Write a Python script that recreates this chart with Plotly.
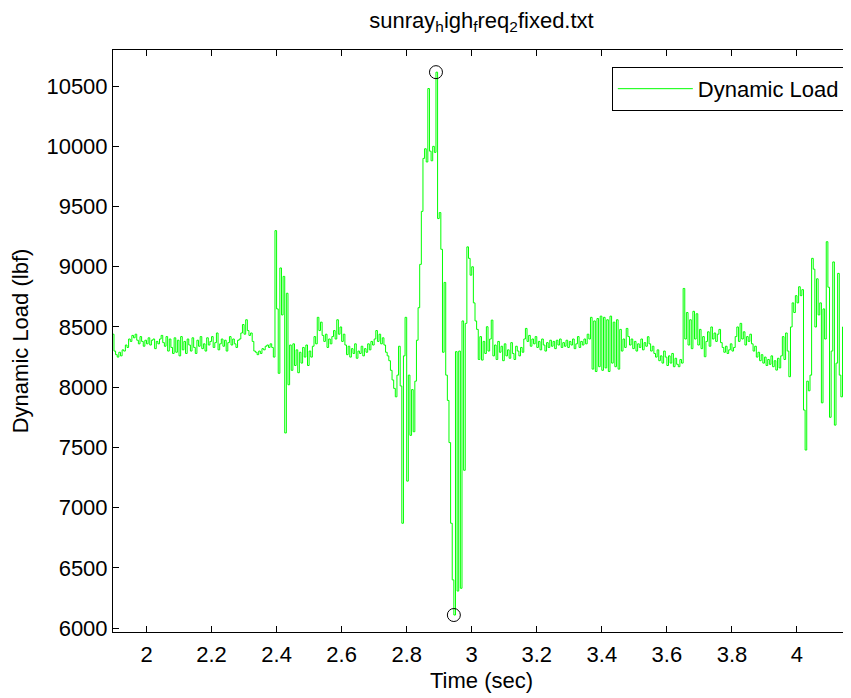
import numpy as np
import plotly.graph_objects as go

# ---- data ----
t_start = 1.895          # s, first sample
dt = 0.005               # s, sample interval

load_lbf = [
    # 1.895 - 1.94
    8440, 8300, 8270, 8250, 8290, 8260, 8310, 8300, 8350, 8330,
    # 1.945 - 1.99
    8400, 8380, 8430, 8410, 8440, 8390, 8360, 8420, 8380, 8340,
    # 1.995 - 2.04
    8390, 8360, 8410, 8350, 8390, 8400, 8320, 8380, 8360, 8400,
    # 2.045 - 2.09
    8430, 8370, 8340, 8420, 8300, 8400, 8330, 8280, 8410, 8290,
    # 2.095 - 2.14
    8390, 8260, 8420, 8310, 8380, 8280, 8400, 8350, 8300, 8410,
    # 2.145 - 2.19
    8330, 8280, 8390, 8340, 8420, 8320, 8360, 8300, 8410, 8350,
    # 2.195 - 2.24
    8380, 8420, 8330, 8370, 8450, 8310, 8360, 8400, 8340, 8390,
    # 2.245 - 2.29
    8300, 8370, 8420, 8350, 8400, 8360, 8330, 8390, 8400, 8450,
    # 2.295 - 2.34
    8520, 8440, 8560, 8470, 8430, 8450, 8380, 8300, 8290, 8270,
    # 2.345 - 2.39
    8300, 8280, 8320, 8310, 8340, 8350, 8330, 8360, 8330, 8250,
    # 2.395 - 2.44
    9300, 8650, 8115, 8990, 8600, 8920, 7620, 8780, 8020, 8350,
    # 2.445 - 2.49
    8140, 8360, 8180, 8310, 8120, 8290, 8200, 8330, 8250, 8350,
    # 2.495 - 2.54
    8180, 8300, 8250, 8340, 8420, 8360, 8580, 8470, 8540, 8430,
    # 2.545 - 2.59
    8380, 8440, 8330, 8400, 8360, 8420, 8470, 8400, 8560, 8440,
    # 2.595 - 2.64
    8500, 8380, 8440, 8350, 8270, 8340, 8250, 8320, 8280, 8360,
    # 2.645 - 2.69
    8240, 8300, 8280, 8340, 8260, 8320, 8290, 8360, 8310, 8380,
    # 2.695 - 2.74
    8350, 8400, 8470, 8380, 8440, 8360, 8410, 8350, 8290, 8260,
    # 2.745 - 2.79
    8220, 8140, 8060, 7990, 7920, 8100, 8340, 8010, 6870, 8260,
    # 2.795 - 2.84
    8580, 7220, 8100, 7600, 7980, 7630, 8050, 8390, 8660, 9020,
    # 2.845 - 2.89
    9460, 9900, 9980, 9870, 10480, 9960, 9880, 10000, 9950, 10616,
    # 2.895 - 2.94
    9400, 9450, 9145, 8290, 8870, 8100, 7890, 7540, 6870, 6400,
    # 2.945 - 2.99
    6108, 8295, 6307, 8300, 6330, 8550, 7310, 8530, 9165, 9070,
    # 2.995 - 3.04
    8930, 9000, 8700, 8550, 8480, 8230, 8420, 8225, 8380, 8280,
    # 3.045 - 3.09
    8502, 8300, 8400, 8557, 8260, 8350, 8230, 8380, 8290, 8340,
    # 3.095 - 3.14
    8220, 8360, 8260, 8310, 8240, 8370, 8280, 8230, 8340, 8300,
    # 3.145 - 3.19
    8260, 8330, 8290, 8400, 8488, 8380, 8430, 8340, 8400, 8360,
    # 3.195 - 3.24
    8420, 8330, 8380, 8310, 8400, 8350, 8300, 8370, 8330, 8390,
    # 3.245 - 3.29
    8340, 8380, 8320, 8390, 8350, 8400, 8330, 8370, 8340, 8390,
    # 3.295 - 3.34
    8330, 8380, 8350, 8400, 8320, 8360, 8420, 8330, 8380, 8350,
    # 3.345 - 3.39
    8400, 8360, 8440, 8400, 8580, 8150, 8550, 8130, 8570, 8170,
    # 3.395 - 3.44
    8590, 8140, 8580, 8160, 8560, 8130, 8590, 8200, 8540, 8170,
    # 3.445 - 3.49
    8560, 8150, 8480, 8300, 8400, 8330, 8488, 8420, 8350, 8400,
    # 3.495 - 3.54
    8320, 8380, 8300, 8360, 8330, 8400, 8310, 8370, 8340, 8419,
    # 3.545 - 3.59
    8360, 8300, 8340, 8280, 8250, 8310, 8220, 8260, 8200, 8300,
    # 3.595 - 3.64
    8250, 8180, 8260, 8200, 8280, 8170, 8240, 8190, 8170, 8230,
    # 3.645 - 3.69
    8200, 8820, 8400, 8620, 8350, 8560, 8320, 8630, 8400, 8610,
    # 3.695 - 3.74
    8350, 8480, 8320, 8420, 8253, 8380, 8460, 8340, 8500, 8400,
    # 3.745 - 3.79
    8450, 8380, 8440, 8480, 8370, 8330, 8290, 8340, 8280, 8310,
    # 3.795 - 3.84
    8360, 8300, 8330, 8420, 8500, 8380, 8530, 8400, 8460, 8350,
    # 3.845 - 3.89
    8420, 8380, 8440, 8360, 8300, 8340, 8250, 8290, 8220, 8270,
    # 3.895 - 3.94
    8200, 8250, 8180, 8230, 8190, 8260, 8170, 8220, 8142, 8240,
    # 3.945 - 3.99
    8160, 8260, 8420, 8230, 8450, 8300, 8087, 8500, 8700, 8620,
    # 3.995 - 4.04
    8760, 8700, 8834, 8760, 8810, 7810, 7478, 8050, 7970, 8100,
    # 4.045 - 4.09
    9070, 8980, 8500, 8900, 8600, 8700, 7870, 8650, 8400, 9208,
    # 4.095 - 4.14
    8830, 7750, 8300, 9040, 7685, 8200, 8945, 8100, 7920, 8500,
    # 4.145 - 4.165
    8300, 8420, 8250, 8350, 8260,
]

time_s = [round(t_start + i * dt, 3) for i in range(len(load_lbf))]

x_tick_vals = [2.0, 2.2, 2.4, 2.6, 2.8, 3.0, 3.2, 3.4, 3.6, 3.8, 4.0]
x_tick_text = ["2", "2.2", "2.4", "2.6", "2.8", "3", "3.2", "3.4", "3.6", "3.8", "4"]
y_tick_vals = [6000, 6500, 7000, 7500, 8000, 8500, 9000, 9500, 10000, 10500]
y_tick_text = [str(v) for v in y_tick_vals]

series_name = "Dynamic Load"
title_text = "sunray<sub>h</sub>igh<sub>f</sub>req<sub>2</sub>fixed.txt"
x_label = "Time (sec)"
y_label = "Dynamic Load (lbf)"

# ---- figure ----
arr = np.array(load_lbf)
i_max = int(np.argmax(arr))
i_min = int(np.argmin(arr))

FONT = "Liberation Sans, Arial, Helvetica, sans-serif"
FS = 22

fig = go.Figure()
fig.add_trace(go.Scatter(
    x=time_s, y=load_lbf, mode="lines", name=series_name,
    line=dict(color="#00ff00", width=1, shape="hv"),
))
fig.add_trace(go.Scatter(
    x=[time_s[i_max], time_s[i_min]], y=[load_lbf[i_max], load_lbf[i_min]],
    mode="markers", showlegend=False,
    marker=dict(symbol="circle-open", size=13, color="black", line=dict(width=1, color="black")),
))

axis_common = dict(
    showline=True, linecolor="black", linewidth=1, mirror="allticks",
    ticks="inside", ticklen=6, tickcolor="black", tickwidth=1,
    showgrid=False, zeroline=False, automargin=False,
    tickfont=dict(family=FONT, size=FS, color="black"),
)

# the page body adds an 8 px margin, so the figure is 843 x 690
fig.update_layout(
    width=843, height=690,
    paper_bgcolor="white", plot_bgcolor="white",
    margin=dict(l=105, r=1, t=42, b=66),
    title=dict(text=title_text, xref="paper", x=0.5, xanchor="center",
               yref="container", y=1 - 12 / 690, yanchor="middle",
               font=dict(family=FONT, size=FS, color="black")),
    xaxis=dict(range=[1.897, 4.163], tickvals=x_tick_vals, ticktext=x_tick_text,
               ticklabelstandoff=3,
               title=dict(text=x_label, font=dict(family=FONT, size=FS, color="black"), standoff=6),
               **axis_common),
    yaxis=dict(range=[5967, 10800], tickvals=y_tick_vals, ticktext=y_tick_text,
               title=dict(text=y_label, font=dict(family=FONT, size=FS, color="black"), standoff=12),
               **axis_common),
    legend=dict(x=0.993, y=0.971, xanchor="right", yanchor="top",
                bgcolor="white", bordercolor="black", borderwidth=1,
                font=dict(family=FONT, size=FS, color="black"),
                itemwidth=75),
    showlegend=True,
)

fig.write_html("out.html")
